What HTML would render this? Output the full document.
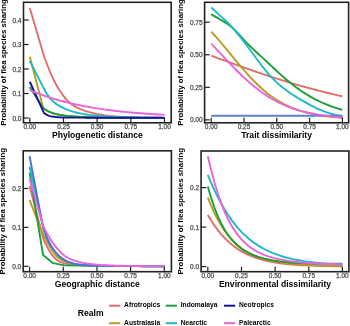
<!DOCTYPE html>
<html><head><meta charset="utf-8"><style>
html,body{margin:0;padding:0;background:#fff;width:350px;height:326px;overflow:hidden}
svg{display:block;will-change:transform}
text{font-family:"Liberation Sans", sans-serif}
.tk{font-size:6.5px;fill:#4D4D4D;stroke:#4D4D4D;stroke-width:0.25px}
.ti{font-size:8.6px;font-weight:bold;fill:#000}
.yt{font-size:7.8px;font-weight:bold;fill:#000}
.lg{font-size:6.7px;font-weight:bold;fill:#000}
</style></head><body>
<svg width="350" height="326" viewBox="0 0 350 326">
<rect width="350" height="326" fill="#fff"/>
<polyline points="29.8,8 43.27,53.81 45.32,59.71 47.38,65.23 49.43,70.37 51.49,75.12 53.54,79.5 55.6,83.51 57.65,87.17 59.71,90.5 61.76,93.56 63.82,96.37 65.87,98.88 67.93,101.08 69.98,102.98 72.04,104.58 74.09,105.94 76.15,107.12 78.2,108.16 80.26,109.08 82.31,109.89 84.36,110.63 86.42,111.29 88.47,111.9 90.53,112.45 92.58,112.97 94.64,113.45 96.69,113.9 98.75,114.31 100.8,114.68 102.86,115.02 104.91,115.33 106.97,115.6 109.02,115.85 111.08,116.07 113.13,116.27 115.19,116.45 117.24,116.61 119.3,116.75 121.35,116.88 123.41,116.99 125.46,117.08 127.51,117.17 129.57,117.25 131.62,117.32 133.68,117.39 135.73,117.45 137.79,117.5 139.84,117.55 141.9,117.59 143.95,117.63 146.01,117.66 148.06,117.69 150.12,117.72 152.17,117.74 154.23,117.77 156.28,117.79 158.34,117.81 160.39,117.82 162.45,117.84 164.5,117.85" fill="none" stroke="#E26E68" stroke-width="1.9" stroke-linejoin="round" stroke-linecap="butt"/>
<polyline points="29.8,56.75 43.27,107.95 45.32,109.57 47.38,110.9 49.43,111.97 51.49,112.85 53.54,113.56 55.6,114.13 57.65,114.61 59.71,115.02 61.76,115.36 63.82,115.65 65.87,115.9 67.93,116.1 69.98,116.27 72.04,116.41 74.09,116.54 76.15,116.67 78.2,116.78 80.26,116.88 82.31,116.97 84.36,117.05 86.42,117.13 88.47,117.2 90.53,117.26 92.58,117.32 94.64,117.37 96.69,117.42 98.75,117.47 100.8,117.51 102.86,117.54 104.91,117.58 106.97,117.61 109.02,117.64 111.08,117.66 113.13,117.68 115.19,117.71 117.24,117.73 119.3,117.74 121.35,117.76 123.41,117.77 125.46,117.79 127.51,117.8 129.57,117.81 131.62,117.82 133.68,117.83 135.73,117.84 137.79,117.85 139.84,117.86 141.9,117.86 143.95,117.87 146.01,117.87 148.06,117.88 150.12,117.88 152.17,117.89 154.23,117.89 156.28,117.89 158.34,117.9 160.39,117.9 162.45,117.9 164.5,117.9" fill="none" stroke="#B99D22" stroke-width="1.9" stroke-linejoin="round" stroke-linecap="butt"/>
<polyline points="29.8,87.13 43.27,108.2 45.32,109.59 47.38,110.76 49.43,111.73 51.49,112.55 53.54,113.24 55.6,113.81 57.65,114.29 59.71,114.7 61.76,115.06 63.82,115.36 65.87,115.64 67.93,115.88 69.98,116.1 72.04,116.3 74.09,116.48 76.15,116.64 78.2,116.78 80.26,116.91 82.31,117.02 84.36,117.12 86.42,117.21 88.47,117.29 90.53,117.35 92.58,117.41 94.64,117.46 96.69,117.5 98.75,117.54 100.8,117.57 102.86,117.6 104.91,117.63 106.97,117.66 109.02,117.68 111.08,117.71 113.13,117.73 115.19,117.74 117.24,117.76 119.3,117.78 121.35,117.79 123.41,117.81 125.46,117.82 127.51,117.83 129.57,117.84 131.62,117.85 133.68,117.86 135.73,117.87 137.79,117.87 139.84,117.88 141.9,117.89 143.95,117.89 146.01,117.9 148.06,117.9 150.12,117.91 152.17,117.91 154.23,117.91 156.28,117.92 158.34,117.92 160.39,117.92 162.45,117.92 164.5,117.93" fill="none" stroke="#1C9E38" stroke-width="1.9" stroke-linejoin="round" stroke-linecap="butt"/>
<polyline points="29.8,60.91 43.27,87.38 45.32,91.31 47.38,94.67 49.43,97.5 51.49,99.84 53.54,101.78 55.6,103.42 57.65,104.84 59.71,106.07 61.76,107.17 63.82,108.15 65.87,109.04 67.93,109.87 69.98,110.62 72.04,111.3 74.09,111.92 76.15,112.47 78.2,112.97 80.26,113.42 82.31,113.83 84.36,114.19 86.42,114.52 88.47,114.82 90.53,115.08 92.58,115.33 94.64,115.54 96.69,115.74 98.75,115.93 100.8,116.09 102.86,116.24 104.91,116.38 106.97,116.51 109.02,116.63 111.08,116.74 113.13,116.84 115.19,116.93 117.24,117.02 119.3,117.1 121.35,117.17 123.41,117.24 125.46,117.31 127.51,117.37 129.57,117.42 131.62,117.47 133.68,117.51 135.73,117.56 137.79,117.59 139.84,117.63 141.9,117.66 143.95,117.69 146.01,117.72 148.06,117.74 150.12,117.77 152.17,117.79 154.23,117.8 156.28,117.82 158.34,117.84 160.39,117.85 162.45,117.87 164.5,117.88" fill="none" stroke="#1EB9C6" stroke-width="1.9" stroke-linejoin="round" stroke-linecap="butt"/>
<polyline points="29.8,81.74 43.94,112.9 45.99,114.38 48.03,115.38 50.07,116.06 52.12,116.51 54.16,116.8 56.2,117.03 58.25,117.21 60.29,117.35 62.33,117.46 64.38,117.53 66.42,117.59 68.46,117.62 70.51,117.63 72.55,117.64 74.59,117.65 76.64,117.65 78.68,117.66 80.72,117.67 82.77,117.67 84.81,117.68 86.85,117.68 88.9,117.69 90.94,117.69 92.98,117.7 95.03,117.7 97.07,117.71 99.11,117.71 101.16,117.71 103.2,117.72 105.24,117.72 107.29,117.72 109.33,117.72 111.37,117.73 113.42,117.73 115.46,117.73 117.5,117.73 119.55,117.74 121.59,117.74 123.63,117.74 125.68,117.74 127.72,117.74 129.76,117.74 131.81,117.75 133.85,117.75 135.89,117.75 137.94,117.75 139.98,117.75 142.02,117.75 144.07,117.75 146.11,117.75 148.15,117.75 150.2,117.75 152.24,117.75 154.28,117.75 156.33,117.75 158.37,117.75 160.41,117.75 162.46,117.75 164.5,117.75" fill="none" stroke="#1414A0" stroke-width="1.9" stroke-linejoin="round" stroke-linecap="butt"/>
<polyline points="29.8,90.22 33.17,91.6 36.53,92.92 39.9,94.18 43.27,95.38 46.64,96.53 50,97.62 53.37,98.66 56.74,99.66 60.11,100.6 63.47,101.5 66.84,102.36 70.21,103.17 73.58,103.95 76.94,104.69 80.31,105.39 83.68,106.05 87.05,106.68 90.41,107.28 93.78,107.85 97.15,108.39 100.52,108.9 103.88,109.39 107.25,109.85 110.62,110.29 113.99,110.7 117.35,111.09 120.72,111.46 124.09,111.82 127.46,112.15 130.82,112.47 134.19,112.76 137.56,113.05 140.93,113.32 144.29,113.57 147.66,113.81 151.03,114.04 154.4,114.25 157.76,114.46 161.13,114.65 164.5,114.83" fill="none" stroke="#EA62DE" stroke-width="1.9" stroke-linejoin="round" stroke-linecap="butt"/>
<rect x="23.5" y="2.3" width="147.7" height="120.5" fill="none" stroke="#222" stroke-width="1.6"/>
<line x1="23.5" y1="118" x2="28.7" y2="118" stroke="#222" stroke-width="1.2"/>
<text x="21.5" y="120.5" text-anchor="end" class="tk">0.0</text>
<line x1="23.5" y1="93.5" x2="28.7" y2="93.5" stroke="#222" stroke-width="1.2"/>
<text x="21.5" y="96" text-anchor="end" class="tk">0.1</text>
<line x1="23.5" y1="69" x2="28.7" y2="69" stroke="#222" stroke-width="1.2"/>
<text x="21.5" y="71.5" text-anchor="end" class="tk">0.2</text>
<line x1="23.5" y1="44.5" x2="28.7" y2="44.5" stroke="#222" stroke-width="1.2"/>
<text x="21.5" y="47" text-anchor="end" class="tk">0.3</text>
<line x1="23.5" y1="20" x2="28.7" y2="20" stroke="#222" stroke-width="1.2"/>
<text x="21.5" y="22.5" text-anchor="end" class="tk">0.4</text>
<line x1="29.8" y1="122.8" x2="29.8" y2="117.8" stroke="#222" stroke-width="1.2"/>
<text x="29.8" y="129.3" text-anchor="middle" class="tk">0.00</text>
<line x1="63.47" y1="122.8" x2="63.47" y2="117.8" stroke="#222" stroke-width="1.2"/>
<text x="63.47" y="129.3" text-anchor="middle" class="tk">0.25</text>
<line x1="97.15" y1="122.8" x2="97.15" y2="117.8" stroke="#222" stroke-width="1.2"/>
<text x="97.15" y="129.3" text-anchor="middle" class="tk">0.50</text>
<line x1="130.82" y1="122.8" x2="130.82" y2="117.8" stroke="#222" stroke-width="1.2"/>
<text x="130.82" y="129.3" text-anchor="middle" class="tk">0.75</text>
<line x1="164.5" y1="122.8" x2="164.5" y2="117.8" stroke="#222" stroke-width="1.2"/>
<text x="164.5" y="129.3" text-anchor="middle" class="tk">1.00</text>
<text x="97.35" y="138.3" text-anchor="middle" class="ti">Phylogenetic distance</text>
<text transform="translate(5.7,62.55) rotate(-90)" text-anchor="middle" class="yt">Probability of flea species sharing</text>
<polyline points="211.2,55.66 214.48,56.87 217.76,58.07 221.04,59.27 224.32,60.47 227.6,61.66 230.88,62.85 234.16,64.04 237.44,65.21 240.72,66.38 244,67.55 247.28,68.7 250.56,69.85 253.84,70.98 257.12,72.11 260.4,73.22 263.68,74.32 266.96,75.41 270.24,76.49 273.52,77.56 276.8,78.61 280.08,79.64 283.36,80.66 286.64,81.67 289.92,82.66 293.2,83.64 296.48,84.6 299.76,85.54 303.04,86.47 306.32,87.38 309.6,88.28 312.88,89.16 316.16,90.02 319.44,90.86 322.72,91.69 326,92.5 329.28,93.29 332.56,94.06 335.84,94.82 339.12,95.56 342.4,96.29" fill="none" stroke="#E26E68" stroke-width="1.9" stroke-linejoin="round" stroke-linecap="butt"/>
<polyline points="211.2,31.69 214.48,35.25 217.76,38.95 221.04,42.75 224.32,46.65 227.6,50.6 230.88,54.59 234.16,58.57 237.44,62.53 240.72,66.43 244,70.25 247.28,73.95 250.56,77.53 253.84,80.95 257.12,84.21 260.4,87.3 263.68,90.2 266.96,92.91 270.24,95.44 273.52,97.78 276.8,99.94 280.08,101.93 283.36,103.74 286.64,105.4 289.92,106.9 293.2,108.27 296.48,109.5 299.76,110.61 303.04,111.62 306.32,112.52 309.6,113.33 312.88,114.05 316.16,114.7 319.44,115.28 322.72,115.79 326,116.25 329.28,116.66 332.56,117.03 335.84,117.35 339.12,117.64 342.4,117.9" fill="none" stroke="#B99D22" stroke-width="1.9" stroke-linejoin="round" stroke-linecap="butt"/>
<polyline points="211.2,14.36 213.42,15.6 215.65,16.87 217.87,18.18 220.09,19.49 222.32,20.79 224.54,22.13 226.77,23.55 228.99,25.09 231.21,26.83 233.44,28.78 235.66,30.93 237.88,33.23 240.11,35.63 242.33,38.08 244.56,40.52 246.78,42.88 249,45.13 251.23,47.3 253.45,49.43 255.67,51.51 257.9,53.56 260.12,55.59 262.35,57.62 264.57,59.64 266.79,61.69 269.02,63.75 271.24,65.84 273.46,67.94 275.69,70.02 277.91,72.09 280.14,74.12 282.36,76.12 284.58,78.07 286.81,79.97 289.03,81.82 291.25,83.6 293.48,85.33 295.7,87.01 297.93,88.63 300.15,90.19 302.37,91.7 304.6,93.15 306.82,94.54 309.04,95.88 311.27,97.16 313.49,98.38 315.72,99.56 317.94,100.67 320.16,101.74 322.39,102.76 324.61,103.72 326.83,104.64 329.06,105.51 331.28,106.34 333.51,107.13 335.73,107.87 337.95,108.57 340.18,109.24 342.4,109.87" fill="none" stroke="#1C9E38" stroke-width="1.9" stroke-linejoin="round" stroke-linecap="butt"/>
<polyline points="211.2,7.45 213.42,9.43 215.65,11.49 217.87,13.57 220.09,15.61 222.32,17.63 224.54,19.68 226.77,21.79 228.99,24.02 231.21,26.4 233.44,28.9 235.66,31.49 237.88,34.17 240.11,36.92 242.33,39.74 244.56,42.62 246.78,45.53 249,48.48 251.23,51.48 253.45,54.51 255.67,57.54 257.9,60.56 260.12,63.53 262.35,66.43 264.57,69.24 266.79,71.95 269.02,74.53 271.24,76.96 273.46,79.26 275.69,81.41 277.91,83.45 280.14,85.37 282.36,87.2 284.58,88.93 286.81,90.59 289.03,92.18 291.25,93.71 293.48,95.19 295.7,96.62 297.93,98 300.15,99.35 302.37,100.66 304.6,101.94 306.82,103.19 309.04,104.41 311.27,105.59 313.49,106.72 315.72,107.8 317.94,108.83 320.16,109.8 322.39,110.71 324.61,111.56 326.83,112.35 329.06,113.09 331.28,113.77 333.51,114.39 335.73,114.96 337.95,115.48 340.18,115.95 342.4,116.38" fill="none" stroke="#1EB9C6" stroke-width="1.9" stroke-linejoin="round" stroke-linecap="butt"/>
<polyline points="211.2,115.73 342.4,115.73" fill="none" stroke="#5A82CC" stroke-width="1.9" stroke-linejoin="round" stroke-linecap="butt"/>
<polyline points="211.2,43.69 214.48,47.11 217.76,50.59 221.04,54.08 224.32,57.58 227.6,61.07 230.88,64.51 234.16,67.91 237.44,71.23 240.72,74.46 244,77.58 247.28,80.6 250.56,83.48 253.84,86.24 257.12,88.85 260.4,91.32 263.68,93.65 266.96,95.83 270.24,97.87 273.52,99.76 276.8,101.53 280.08,103.16 283.36,104.67 286.64,106.05 289.92,107.33 293.2,108.5 296.48,109.57 299.76,110.55 303.04,111.44 306.32,112.25 309.6,112.99 312.88,113.66 316.16,114.27 319.44,114.82 322.72,115.32 326,115.77 329.28,116.18 332.56,116.55 335.84,116.88 339.12,117.18 342.4,117.46" fill="none" stroke="#EA62DE" stroke-width="1.9" stroke-linejoin="round" stroke-linecap="butt"/>
<rect x="204.6" y="2.3" width="144" height="120.5" fill="none" stroke="#222" stroke-width="1.6"/>
<line x1="204.6" y1="119.9" x2="209.8" y2="119.9" stroke="#222" stroke-width="1.2"/>
<text x="202.6" y="122.4" text-anchor="end" class="tk">0.00</text>
<line x1="204.6" y1="87.33" x2="209.8" y2="87.33" stroke="#222" stroke-width="1.2"/>
<text x="202.6" y="89.83" text-anchor="end" class="tk">0.25</text>
<line x1="204.6" y1="54.75" x2="209.8" y2="54.75" stroke="#222" stroke-width="1.2"/>
<text x="202.6" y="57.25" text-anchor="end" class="tk">0.50</text>
<line x1="204.6" y1="22.17" x2="209.8" y2="22.17" stroke="#222" stroke-width="1.2"/>
<text x="202.6" y="24.67" text-anchor="end" class="tk">0.75</text>
<line x1="211.2" y1="122.8" x2="211.2" y2="117.8" stroke="#222" stroke-width="1.2"/>
<text x="211.2" y="129.3" text-anchor="middle" class="tk">0.00</text>
<line x1="244" y1="122.8" x2="244" y2="117.8" stroke="#222" stroke-width="1.2"/>
<text x="244" y="129.3" text-anchor="middle" class="tk">0.25</text>
<line x1="276.8" y1="122.8" x2="276.8" y2="117.8" stroke="#222" stroke-width="1.2"/>
<text x="276.8" y="129.3" text-anchor="middle" class="tk">0.50</text>
<line x1="309.6" y1="122.8" x2="309.6" y2="117.8" stroke="#222" stroke-width="1.2"/>
<text x="309.6" y="129.3" text-anchor="middle" class="tk">0.75</text>
<line x1="342.4" y1="122.8" x2="342.4" y2="117.8" stroke="#222" stroke-width="1.2"/>
<text x="342.4" y="129.3" text-anchor="middle" class="tk">1.00</text>
<text x="276.6" y="138.3" text-anchor="middle" class="ti">Trait dissimilarity</text>
<text transform="translate(182.8,62.55) rotate(-90)" text-anchor="middle" class="yt">Probability of flea species sharing</text>
<polyline points="29.6,185.78 43.07,237.9 45.12,242.78 47.18,247 49.23,250.61 51.29,253.74 53.34,256.44 55.4,258.62 57.45,260.3 59.51,261.53 61.56,262.4 63.62,263.08 65.67,263.6 67.73,264.01 69.78,264.32 71.84,264.58 73.89,264.79 75.95,264.97 78,265.13 80.06,265.26 82.11,265.37 84.16,265.47 86.22,265.55 88.27,265.62 90.33,265.69 92.38,265.74 94.44,265.79 96.49,265.83 98.55,265.86 100.6,265.89 102.66,265.92 104.71,265.95 106.77,265.97 108.82,266 110.88,266.02 112.93,266.04 114.99,266.06 117.04,266.07 119.1,266.09 121.15,266.1 123.21,266.11 125.26,266.13 127.31,266.14 129.37,266.15 131.42,266.15 133.48,266.16 135.53,266.17 137.59,266.18 139.64,266.18 141.7,266.19 143.75,266.19 145.81,266.2 147.86,266.2 149.92,266.21 151.97,266.21 154.03,266.21 156.08,266.21 158.14,266.22 160.19,266.22 162.25,266.22 164.3,266.22" fill="none" stroke="#E26E68" stroke-width="1.9" stroke-linejoin="round" stroke-linecap="butt"/>
<polyline points="29.6,200.17 43.07,234.4 45.12,238.49 47.18,242.34 49.23,245.91 51.29,249.24 53.34,252.34 55.4,255 57.45,257.12 59.51,258.7 61.56,259.93 63.62,260.92 65.67,261.73 67.73,262.39 69.78,262.94 71.84,263.4 73.89,263.79 75.95,264.13 78,264.42 80.06,264.66 82.11,264.86 84.16,265.03 86.22,265.17 88.27,265.29 90.33,265.38 92.38,265.47 94.44,265.54 96.49,265.61 98.55,265.67 100.6,265.73 102.66,265.78 104.71,265.82 106.77,265.87 108.82,265.9 110.88,265.94 112.93,265.97 114.99,265.99 117.04,266.02 119.1,266.04 121.15,266.06 123.21,266.08 125.26,266.1 127.31,266.11 129.37,266.12 131.42,266.14 133.48,266.15 135.53,266.16 137.59,266.17 139.64,266.17 141.7,266.18 143.75,266.19 145.81,266.19 147.86,266.2 149.92,266.2 151.97,266.21 154.03,266.21 156.08,266.21 158.14,266.22 160.19,266.22 162.25,266.22 164.3,266.22" fill="none" stroke="#B99D22" stroke-width="1.9" stroke-linejoin="round" stroke-linecap="butt"/>
<polyline points="29.6,172.55 43.07,255.1 53.17,263.19 64.62,265.33 96.95,265.83 164.3,265.91" fill="none" stroke="#1C9E38" stroke-width="1.9" stroke-linejoin="round" stroke-linecap="butt"/>
<polyline points="29.6,166.72 43.07,227.4 45.12,233.36 47.18,238.41 49.23,242.67 51.29,246.24 53.34,249.27 55.4,252.01 57.45,254.43 59.51,256.43 61.56,258.08 63.62,259.45 65.67,260.59 67.73,261.54 69.78,262.33 71.84,263 73.89,263.57 75.95,264.03 78,264.36 80.06,264.61 82.11,264.82 84.16,264.99 86.22,265.13 88.27,265.25 90.33,265.34 92.38,265.43 94.44,265.51 96.49,265.58 98.55,265.64 100.6,265.7 102.66,265.75 104.71,265.8 106.77,265.84 108.82,265.88 110.88,265.91 112.93,265.95 114.99,265.97 117.04,266 119.1,266.02 121.15,266.05 123.21,266.06 125.26,266.08 127.31,266.1 129.37,266.11 131.42,266.13 133.48,266.14 135.53,266.15 137.59,266.16 139.64,266.17 141.7,266.17 143.75,266.18 145.81,266.19 147.86,266.19 149.92,266.2 151.97,266.2 154.03,266.21 156.08,266.21 158.14,266.21 160.19,266.22 162.25,266.22 164.3,266.22" fill="none" stroke="#1EB9C6" stroke-width="1.9" stroke-linejoin="round" stroke-linecap="butt"/>
<polyline points="29.6,156.21 43.07,227.4 45.12,233.36 47.18,238.41 49.23,242.67 51.29,246.24 53.34,249.27 55.4,252.01 57.45,254.43 59.51,256.43 61.56,258.08 63.62,259.45 65.67,260.59 67.73,261.54 69.78,262.33 71.84,263 73.89,263.57 75.95,264.03 78,264.36 80.06,264.61 82.11,264.82 84.16,264.99 86.22,265.13 88.27,265.25 90.33,265.34 92.38,265.43 94.44,265.51 96.49,265.58 98.55,265.64 100.6,265.7 102.66,265.75 104.71,265.8 106.77,265.84 108.82,265.88 110.88,265.91 112.93,265.95 114.99,265.97 117.04,266 119.1,266.02 121.15,266.05 123.21,266.06 125.26,266.08 127.31,266.1 129.37,266.11 131.42,266.13 133.48,266.14 135.53,266.15 137.59,266.16 139.64,266.17 141.7,266.17 143.75,266.18 145.81,266.19 147.86,266.19 149.92,266.2 151.97,266.2 154.03,266.21 156.08,266.21 158.14,266.21 160.19,266.22 162.25,266.22 164.3,266.22" fill="none" stroke="#4A74D4" stroke-width="1.9" stroke-linejoin="round" stroke-linecap="butt"/>
<polyline points="29.6,178.78 43.07,225.84 45.12,229.99 47.18,233.83 49.23,237.37 51.29,240.62 53.34,243.6 55.4,246.36 57.45,248.9 59.51,251.2 61.56,253.23 63.62,254.99 65.67,256.49 67.73,257.75 69.78,258.8 71.84,259.67 73.89,260.4 75.95,261.03 78,261.61 80.06,262.14 82.11,262.62 84.16,263.05 86.22,263.42 88.27,263.74 90.33,264.01 92.38,264.25 94.44,264.46 96.49,264.64 98.55,264.81 100.6,264.96 102.66,265.09 104.71,265.2 106.77,265.31 108.82,265.4 110.88,265.48 112.93,265.55 114.99,265.62 117.04,265.68 119.1,265.73 121.15,265.78 123.21,265.82 125.26,265.86 127.31,265.89 129.37,265.92 131.42,265.95 133.48,265.98 135.53,266 137.59,266.02 139.64,266.04 141.7,266.06 143.75,266.08 145.81,266.09 147.86,266.11 149.92,266.12 151.97,266.13 154.03,266.14 156.08,266.15 158.14,266.16 160.19,266.17 162.25,266.18 164.3,266.18" fill="none" stroke="#EA62DE" stroke-width="1.9" stroke-linejoin="round" stroke-linecap="butt"/>
<rect x="23.2" y="150.8" width="148.2" height="120.9" fill="none" stroke="#222" stroke-width="1.6"/>
<line x1="23.2" y1="266.3" x2="28.4" y2="266.3" stroke="#222" stroke-width="1.2"/>
<text x="21.2" y="268.8" text-anchor="end" class="tk">0.0</text>
<line x1="23.2" y1="227.4" x2="28.4" y2="227.4" stroke="#222" stroke-width="1.2"/>
<text x="21.2" y="229.9" text-anchor="end" class="tk">0.1</text>
<line x1="23.2" y1="188.5" x2="28.4" y2="188.5" stroke="#222" stroke-width="1.2"/>
<text x="21.2" y="191" text-anchor="end" class="tk">0.2</text>
<line x1="29.6" y1="271.7" x2="29.6" y2="266.7" stroke="#222" stroke-width="1.2"/>
<text x="29.6" y="278.2" text-anchor="middle" class="tk">0.00</text>
<line x1="63.28" y1="271.7" x2="63.28" y2="266.7" stroke="#222" stroke-width="1.2"/>
<text x="63.28" y="278.2" text-anchor="middle" class="tk">0.25</text>
<line x1="96.95" y1="271.7" x2="96.95" y2="266.7" stroke="#222" stroke-width="1.2"/>
<text x="96.95" y="278.2" text-anchor="middle" class="tk">0.50</text>
<line x1="130.62" y1="271.7" x2="130.62" y2="266.7" stroke="#222" stroke-width="1.2"/>
<text x="130.62" y="278.2" text-anchor="middle" class="tk">0.75</text>
<line x1="164.3" y1="271.7" x2="164.3" y2="266.7" stroke="#222" stroke-width="1.2"/>
<text x="164.3" y="278.2" text-anchor="middle" class="tk">1.00</text>
<text x="97.3" y="286.9" text-anchor="middle" class="ti">Geographic distance</text>
<text transform="translate(5.4,211.25) rotate(-90)" text-anchor="middle" class="yt">Probability of flea species sharing</text>
<polyline points="207.8,214.92 211.17,220.53 214.53,225.61 217.9,230.19 221.26,234.31 224.62,238.01 227.99,241.32 231.36,244.27 234.72,246.9 238.09,249.24 241.45,251.32 244.81,253.15 248.18,254.78 251.55,256.22 254.91,257.48 258.27,258.6 261.64,259.59 265,260.45 268.37,261.21 271.74,261.88 275.1,262.47 278.47,262.99 281.83,263.44 285.19,263.84 288.56,264.18 291.92,264.49 295.29,264.76 298.65,264.99 302.02,265.19 305.38,265.37 308.75,265.53 312.12,265.66 315.48,265.78 318.84,265.89 322.21,265.98 325.57,266.06 328.94,266.13 332.31,266.19 335.67,266.24 339.03,266.29 342.4,266.33" fill="none" stroke="#E26E68" stroke-width="1.9" stroke-linejoin="round" stroke-linecap="butt"/>
<polyline points="207.8,197.42 211.17,205.78 214.53,213.22 217.9,219.8 221.26,225.62 224.62,230.73 227.99,235.21 231.36,239.14 234.72,242.57 238.09,245.56 241.45,248.17 244.81,250.45 248.18,252.43 251.55,254.16 254.91,255.66 258.27,256.98 261.64,258.12 265,259.12 268.37,260 271.74,260.76 275.1,261.43 278.47,262.01 281.83,262.53 285.19,262.98 288.56,263.37 291.92,263.72 295.29,264.03 298.65,264.3 302.02,264.54 305.38,264.75 308.75,264.94 312.12,265.1 315.48,265.25 318.84,265.38 322.21,265.5 325.57,265.6 328.94,265.69 332.31,265.78 335.67,265.85 339.03,265.92 342.4,265.97" fill="none" stroke="#B99D22" stroke-width="1.9" stroke-linejoin="round" stroke-linecap="butt"/>
<polyline points="207.8,186.53 211.17,198.07 214.53,207.98 217.9,216.45 221.26,223.65 224.62,229.75 227.99,234.9 231.36,239.26 234.72,242.94 238.09,246.04 241.45,248.67 244.81,250.9 248.18,252.79 251.55,254.4 254.91,255.77 258.27,256.94 261.64,257.94 265,258.8 268.37,259.54 271.74,260.18 275.1,260.73 278.47,261.2 281.83,261.61 285.19,261.97 288.56,262.28 291.92,262.54 295.29,262.78 298.65,262.97 302.02,263.14 305.38,263.29 308.75,263.41 312.12,263.51 315.48,263.6 318.84,263.66 322.21,263.71 325.57,263.74 328.94,263.76 332.31,263.76 335.67,263.75 339.03,263.72 342.4,263.68" fill="none" stroke="#1C9E38" stroke-width="1.9" stroke-linejoin="round" stroke-linecap="butt"/>
<polyline points="207.8,174.97 211.17,182.95 214.53,190.37 217.9,197.24 221.26,203.57 224.62,209.39 227.99,214.73 231.36,219.61 234.72,224.06 238.09,228.12 241.45,231.8 244.81,235.14 248.18,238.17 251.55,240.91 254.91,243.39 258.27,245.63 261.64,247.65 265,249.48 268.37,251.12 271.74,252.61 275.1,253.94 278.47,255.15 281.83,256.24 285.19,257.22 288.56,258.1 291.92,258.9 295.29,259.62 298.65,260.27 302.02,260.85 305.38,261.38 308.75,261.86 312.12,262.29 315.48,262.68 318.84,263.03 322.21,263.35 325.57,263.64 328.94,263.9 332.31,264.14 335.67,264.35 339.03,264.55 342.4,264.72" fill="none" stroke="#1EB9C6" stroke-width="1.9" stroke-linejoin="round" stroke-linecap="butt"/>
<polyline points="207.8,156.32 211.17,170.31 214.53,182.78 217.9,193.79 221.26,203.42 224.62,211.81 227.99,219.07 231.36,225.33 234.72,230.72 238.09,235.36 241.45,239.33 244.81,242.74 248.18,245.67 251.55,248.18 254.91,250.35 258.27,252.21 261.64,253.81 265,255.2 268.37,256.4 271.74,257.44 275.1,258.34 278.47,259.13 281.83,259.81 285.19,260.41 288.56,260.93 291.92,261.39 295.29,261.8 298.65,262.15 302.02,262.46 305.38,262.74 308.75,262.98 312.12,263.19 315.48,263.38 318.84,263.54 322.21,263.69 325.57,263.82 328.94,263.93 332.31,264.02 335.67,264.1 339.03,264.17 342.4,264.23" fill="none" stroke="#EA62DE" stroke-width="1.9" stroke-linejoin="round" stroke-linecap="butt"/>
<rect x="201.1" y="151" width="147.8" height="120.7" fill="none" stroke="#222" stroke-width="1.6"/>
<line x1="201.1" y1="266.6" x2="206.3" y2="266.6" stroke="#222" stroke-width="1.2"/>
<text x="199.1" y="269.1" text-anchor="end" class="tk">0.0</text>
<line x1="201.1" y1="227.1" x2="206.3" y2="227.1" stroke="#222" stroke-width="1.2"/>
<text x="199.1" y="229.6" text-anchor="end" class="tk">0.1</text>
<line x1="201.1" y1="187.6" x2="206.3" y2="187.6" stroke="#222" stroke-width="1.2"/>
<text x="199.1" y="190.1" text-anchor="end" class="tk">0.2</text>
<line x1="207.8" y1="271.7" x2="207.8" y2="266.7" stroke="#222" stroke-width="1.2"/>
<text x="207.8" y="278.2" text-anchor="middle" class="tk">0.00</text>
<line x1="241.45" y1="271.7" x2="241.45" y2="266.7" stroke="#222" stroke-width="1.2"/>
<text x="241.45" y="278.2" text-anchor="middle" class="tk">0.25</text>
<line x1="275.1" y1="271.7" x2="275.1" y2="266.7" stroke="#222" stroke-width="1.2"/>
<text x="275.1" y="278.2" text-anchor="middle" class="tk">0.50</text>
<line x1="308.75" y1="271.7" x2="308.75" y2="266.7" stroke="#222" stroke-width="1.2"/>
<text x="308.75" y="278.2" text-anchor="middle" class="tk">0.75</text>
<line x1="342.4" y1="271.7" x2="342.4" y2="266.7" stroke="#222" stroke-width="1.2"/>
<text x="342.4" y="278.2" text-anchor="middle" class="tk">1.00</text>
<text x="275" y="286.9" text-anchor="middle" class="ti">Environmental dissimilarity</text>
<text transform="translate(183.3,211.35) rotate(-90)" text-anchor="middle" class="yt">Probability of flea species sharing</text>
<text x="77.8" y="315.8" class="ti">Realm</text>
<line x1="109.1" y1="305.7" x2="120.3" y2="305.7" stroke="#E26E68" stroke-width="2"/>
<text x="124.1" y="307.4" class="lg">Afrotropics</text>
<line x1="165.7" y1="305.7" x2="176.9" y2="305.7" stroke="#1C9E38" stroke-width="2"/>
<text x="180.7" y="307.4" class="lg">Indomalaya</text>
<line x1="224" y1="305.7" x2="235.2" y2="305.7" stroke="#1414A0" stroke-width="2"/>
<text x="239" y="307.4" class="lg">Neotropics</text>
<line x1="109.1" y1="323.2" x2="120.3" y2="323.2" stroke="#B99D22" stroke-width="2"/>
<text x="124.1" y="324.9" class="lg">Australasia</text>
<line x1="165.7" y1="323.2" x2="176.9" y2="323.2" stroke="#1EB9C6" stroke-width="2"/>
<text x="180.7" y="324.9" class="lg">Nearctic</text>
<line x1="224" y1="323.2" x2="235.2" y2="323.2" stroke="#EA62DE" stroke-width="2"/>
<text x="239" y="324.9" class="lg">Palearctic</text>
</svg></body></html>
